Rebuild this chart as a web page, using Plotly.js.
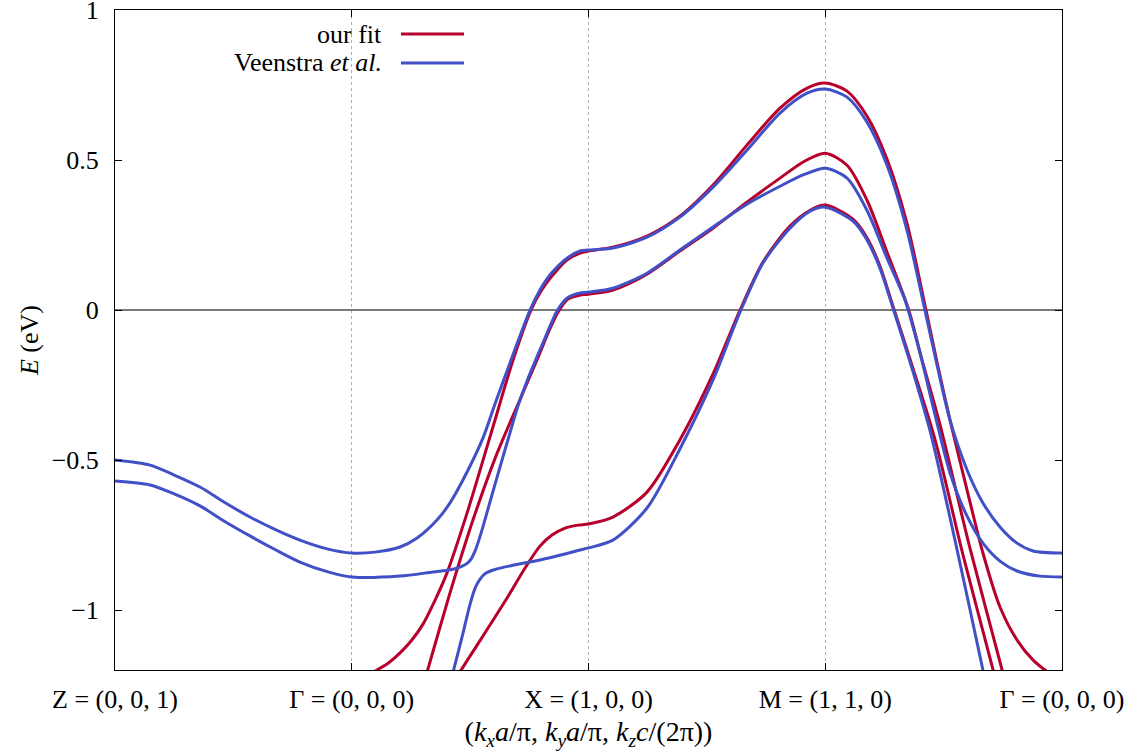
<!DOCTYPE html>
<html>
<head>
<meta charset="utf-8">
<script src="https://cdn.plot.ly/plotly-3.0.1.min.js"></script>
<style>html,body{margin:0;padding:0;background:#fff}#chart{width:1138px;height:754px}</style>
</head>
<body>
<div id="chart"></div>
<script>
// k-path positions of the high-symmetry points and their labels
const kTicks = [0, 1, 2, 3, 4];
const kLabels = ['Z = (0, 0, 1)', 'Γ = (0, 0, 0)', 'X = (1, 0, 0)', 'M = (1, 1, 0)', 'Γ = (0, 0, 0)'];
const energyTicks = [-1, -0.5, 0, 0.5, 1];
const energyLabels = ['−1', '−0.5', '0', '0.5', '1'];

// "our fit" bands (k along the path, E in eV)
const fit1K = [1.436,1.457,1.554,1.656,1.732,1.795,1.846,1.901,1.956,2.000,2.103,2.247,2.386,2.526,2.640,2.737,2.851,2.936,3.000,3.117,3.172,3.231,3.286,3.366,3.464,3.582,3.709,3.721];
const fit1E = [-1.240,-1.207,-1.087,-0.960,-0.860,-0.787,-0.750,-0.727,-0.717,-0.713,-0.690,-0.607,-0.433,-0.213,0.000,0.160,0.280,0.333,0.350,0.303,0.247,0.147,0.013,-0.183,-0.433,-0.817,-1.200,-1.240];

const fit2K = [1.292,1.318,1.415,1.512,1.614,1.706,1.791,1.829,1.871,1.913,1.964,2.000,2.103,2.247,2.386,2.526,2.669,2.809,2.914,3.000,3.092,3.176,3.261,3.350,3.409,3.485,3.611,3.747,3.759];
const fit2E = [-1.273,-1.207,-0.943,-0.700,-0.477,-0.307,-0.150,-0.077,-0.007,0.037,0.050,0.053,0.067,0.120,0.197,0.273,0.360,0.440,0.497,0.523,0.483,0.367,0.193,0.007,-0.167,-0.383,-0.793,-1.200,-1.240];

const fit3K = [1.000,1.090,1.149,1.204,1.254,1.301,1.352,1.402,1.487,1.571,1.614,1.677,1.757,1.799,1.842,1.909,1.964,2.000,2.103,2.247,2.386,2.526,2.669,2.809,2.923,3.000,3.092,3.176,3.261,3.345,3.421,3.472,3.527,3.599,3.666,3.738,3.810,3.878,3.928,4.000];
const fit3E = [-1.250,-1.207,-1.180,-1.143,-1.100,-1.047,-0.967,-0.877,-0.677,-0.457,-0.343,-0.177,0.000,0.063,0.110,0.167,0.190,0.197,0.210,0.247,0.313,0.417,0.550,0.673,0.740,0.757,0.730,0.647,0.503,0.290,0.017,-0.173,-0.367,-0.600,-0.810,-0.990,-1.100,-1.167,-1.200,-1.240];

// Veenstra et al. bands
const veenAK = [0.000,0.148,0.250,0.359,0.460,0.570,0.680,0.781,0.900,1.000,1.098,1.204,1.276,1.360,1.415,1.487,1.554,1.605,1.668,1.753,1.795,1.837,1.909,1.964,2.000,2.103,2.247,2.386,2.526,2.669,2.809,2.923,3.000,3.092,3.176,3.261,3.345,3.421,3.472,3.527,3.599,3.666,3.738,3.810,3.878,4.000];
const veenAE = [-0.500,-0.517,-0.550,-0.590,-0.640,-0.690,-0.733,-0.767,-0.797,-0.810,-0.807,-0.790,-0.760,-0.700,-0.643,-0.540,-0.427,-0.313,-0.177,0.000,0.067,0.117,0.173,0.197,0.200,0.207,0.243,0.310,0.410,0.533,0.657,0.723,0.737,0.710,0.627,0.483,0.267,0.000,-0.183,-0.367,-0.533,-0.643,-0.723,-0.777,-0.803,-0.810];

const veenBK = [0.000,0.148,0.250,0.359,0.460,0.570,0.680,0.781,0.900,1.000,1.204,1.343,1.423,1.457,1.483,1.504,1.521,1.537,1.554,1.592,1.630,1.668,1.702,1.740,1.782,1.825,1.867,1.909,1.964,2.000,2.103,2.247,2.386,2.526,2.669,2.809,2.914,3.000,3.092,3.176,3.261,3.337,3.400,3.464,3.527,3.599,3.666,3.738,3.810,3.907,4.000];
const veenBE = [-0.570,-0.583,-0.613,-0.653,-0.703,-0.753,-0.800,-0.840,-0.873,-0.890,-0.887,-0.873,-0.865,-0.857,-0.847,-0.830,-0.803,-0.767,-0.723,-0.617,-0.513,-0.410,-0.320,-0.237,-0.157,-0.077,-0.003,0.040,0.057,0.060,0.073,0.123,0.200,0.277,0.353,0.413,0.453,0.473,0.440,0.333,0.173,0.033,-0.143,-0.350,-0.543,-0.687,-0.777,-0.837,-0.870,-0.887,-0.890];

const veenCK = [1.419,1.428,1.470,1.499,1.521,1.542,1.567,1.605,1.668,1.795,1.901,1.964,2.000,2.103,2.247,2.386,2.526,2.640,2.737,2.851,2.936,3.000,3.117,3.172,3.231,3.286,3.366,3.442,3.548,3.666,3.675];
const veenCE = [-1.233,-1.207,-1.077,-0.983,-0.927,-0.897,-0.877,-0.865,-0.853,-0.833,-0.813,-0.800,-0.793,-0.767,-0.660,-0.463,-0.233,-0.007,0.157,0.273,0.330,0.343,0.297,0.240,0.140,0.007,-0.193,-0.400,-0.767,-1.200,-1.233];

const RED = '#b8002c';
const BLUE = '#4150c6';
const FONT = 'Liberation Serif, Times New Roman, serif';
const FS = 26;

function band(k, e, color, name) {
  return {x: k, y: e, type: 'scatter', mode: 'lines', name: name, showlegend: false,
          line: {color: color, width: 3, shape: 'spline', smoothing: 0.8}, hoverinfo: 'skip'};
}

const traces = [
  band(fit1K, fit1E, RED, 'our fit'),
  band(fit2K, fit2E, RED, 'our fit'),
  band(fit3K, fit3E, RED, 'our fit'),
  band(veenAK, veenAE, BLUE, 'Veenstra et al.'),
  band(veenBK, veenBE, BLUE, 'Veenstra et al.'),
  band(veenCK, veenCE, BLUE, 'Veenstra et al.')
];

const layout = {
  width: 1138, height: 754,
  margin: {l: 115, r: 76, t: 10, b: 84},
  paper_bgcolor: '#fff', plot_bgcolor: '#fff',
  font: {family: FONT, size: FS, color: '#000'},
  showlegend: false,
  xaxis: {
    range: [0, 4], tickvals: kTicks, ticktext: kLabels,
    ticks: 'inside', ticklen: 7, tickcolor: '#000', tickwidth: 1,
    showline: true, linecolor: '#000', linewidth: 1, mirror: 'ticks',
    showgrid: true, gridcolor: '#b0b0b0', griddash: 'dot', gridwidth: 1,
    zeroline: false, ticklabelstandoff: 6, ticklabeloverflow: 'allow',
    tickfont: {family: FONT, size: FS},
    title: {text: '(<i>k</i><sub><i>x</i></sub><i>a</i>/π, <i>k</i><sub><i>y</i></sub><i>a</i>/π, <i>k</i><sub><i>z</i></sub><i>c</i>/(2π))', font: {family: FONT, size: 28}, standoff: 8}
  },
  yaxis: {
    range: [-1.2, 1.0005], tickvals: energyTicks, ticktext: energyLabels,
    ticks: 'inside', ticklen: 7, tickcolor: '#000', tickwidth: 1,
    showline: true, linecolor: '#000', linewidth: 1, mirror: 'ticks',
    showgrid: false, zeroline: true, zerolinecolor: '#7a7a7a', zerolinewidth: 1.5,
    ticklabelstandoff: 10, ticklabeloverflow: 'allow',
    tickfont: {family: FONT, size: FS},
    title: {text: '<i>E</i> (eV)', font: {family: FONT, size: FS}, standoff: 5}
  },
  annotations: [
    {xref: 'paper', yref: 'paper', x: 0.284, y: 0.9636, xanchor: 'right', yanchor: 'middle', showarrow: false,
     text: 'our fit', font: {family: FONT, size: FS}},
    {xref: 'paper', yref: 'paper', x: 0.284, y: 0.9197, xanchor: 'right', yanchor: 'middle', showarrow: false,
     text: 'Veenstra <i>et al.</i>', font: {family: FONT, size: FS}}
  ],
  shapes: [
    {type: 'line', xref: 'paper', yref: 'paper', x0: 0.302, x1: 0.3685, y0: 0.9636, y1: 0.9636, line: {color: RED, width: 3}},
    {type: 'line', xref: 'paper', yref: 'paper', x0: 0.302, x1: 0.3685, y0: 0.9197, y1: 0.9197, line: {color: BLUE, width: 3}}
  ]
};

Plotly.newPlot('chart', traces, layout, {staticPlot: true, displayModeBar: false});
</script>
</body>
</html>
